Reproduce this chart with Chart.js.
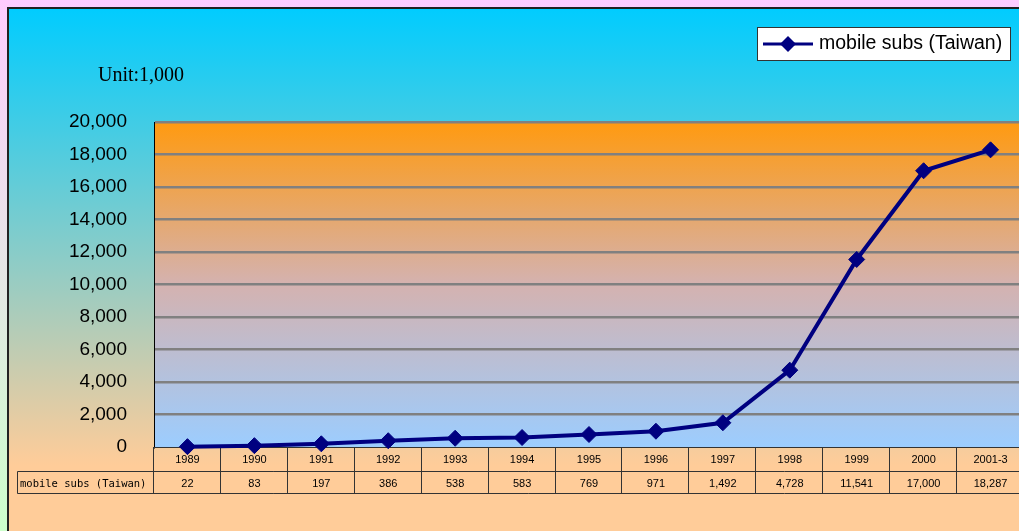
<!DOCTYPE html>
<html>
<head>
<meta charset="utf-8">
<script src="https://cdn.jsdelivr.net/npm/chart.js@4/dist/chart.umd.min.js"></script>
<style>
	html, body { margin: 0; padding: 0; overflow: hidden; background: #ffccff; }
	#wrap { position: absolute; left: 0; top: 0; width: 1019px; height: 531px; overflow: hidden; }
	canvas { display: block; }
</style>
</head>
<body>
<div id="wrap"><canvas id="chart" width="1040" height="531"></canvas></div>
<script>
const years = ["1989", "1990", "1991", "1992", "1993", "1994", "1995", "1996", "1997", "1998", "1999", "2000", "2001-3"];
const subs = [22, 83, 197, 386, 538, 583, 769, 971, 1492, 4728, 11541, 17000, 18287];
const seriesName = "mobile subs (Taiwan)";
const unitText = "Unit:1,000";
const yMax = 20000;
const yStep = 2000;

const navy = "#000080";

function fmt(v) {
	return v.toLocaleString("en-US");
}

// backgrounds: page strip, frame gradient, plot gradient
const backdrop = {
	id: "backdrop",
	beforeDraw(chart) {
		const ctx = chart.ctx;
		const W = chart.width, H = chart.height;
		const a = chart.chartArea;
		ctx.save();
		let g = ctx.createLinearGradient(0, 0, 0, H);
		g.addColorStop(0, "#ffccff");
		g.addColorStop(1, "#ccffcc");
		ctx.fillStyle = g;
		ctx.fillRect(0, 0, W, H);

		g = ctx.createLinearGradient(0, 7, 0, 465);
		g.addColorStop(0, "#00ccff");
		g.addColorStop(1, "#ffcc99");
		ctx.fillStyle = g;
		ctx.fillRect(7, 7, W, H);

		ctx.strokeStyle = "#222";
		ctx.lineWidth = 2;
		ctx.beginPath();
		ctx.moveTo(8, H);
		ctx.lineTo(8, 8);
		ctx.lineTo(W, 8);
		ctx.stroke();

		g = ctx.createLinearGradient(0, a.top, 0, a.bottom);
		g.addColorStop(0, "#ff9a10");
		g.addColorStop(0.5, "#d4b2b0");
		g.addColorStop(1, "#9ccdff");
		ctx.fillStyle = g;
		ctx.fillRect(a.left, a.top, a.right - a.left, a.bottom - a.top);

		ctx.fillStyle = "#000";
		ctx.font = "20px 'Liberation Serif'";
		ctx.textAlign = "left";
		ctx.textBaseline = "alphabetic";
		ctx.fillText(unitText, 98, 81);
		ctx.restore();
	},
};

// data table under the plot, placed with the x scale
const dataTable = {
	id: "dataTable",
	beforeDatasetsDraw(chart) {
		const ctx = chart.ctx;
		const x = chart.scales.x;
		const a = chart.chartArea;
		const cw = (a.right - a.left) / years.length;
		const row1 = a.bottom, row2 = a.bottom + 24, row3 = a.bottom + 46;
		ctx.save();
		ctx.strokeStyle = "#333";
		ctx.lineWidth = 1;
		ctx.beginPath();
		ctx.moveTo(a.left, row1 + 0.5);
		ctx.lineTo(chart.width, row1 + 0.5);
		ctx.moveTo(17.5, row2 + 0.5);
		ctx.lineTo(chart.width, row2 + 0.5);
		ctx.moveTo(17.5, row3 + 0.5);
		ctx.lineTo(chart.width, row3 + 0.5);
		ctx.moveTo(17.5, row2 + 0.5);
		ctx.lineTo(17.5, row3 + 0.5);
		for (let i = 0; i <= years.length; i++) {
			const px = Math.round(a.left + i * cw) - 0.5;
			ctx.moveTo(px, row1);
			ctx.lineTo(px, row3 + 1);
		}
		ctx.stroke();

		ctx.fillStyle = "#000";
		ctx.textAlign = "center";
		ctx.textBaseline = "middle";
		ctx.font = "11px 'Liberation Sans'";
		years.forEach((y, i) => {
			const cx = x.getPixelForValue(i);
			ctx.fillText(y, cx, row1 + 13);
			ctx.fillText(fmt(subs[i]), cx, row2 + 13);
		});
		ctx.textAlign = "left";
		ctx.font = "10.5px 'DejaVu Sans Mono'";
		ctx.fillText(seriesName, 20, row2 + 13);
		ctx.restore();
	},
};

// boxed legend at top right
const boxLegend = {
	id: "boxLegend",
	afterDraw(chart) {
		const ctx = chart.ctx;
		ctx.save();
		ctx.fillStyle = "#fff";
		ctx.fillRect(757, 27, 253, 33);
		ctx.strokeStyle = "#333";
		ctx.lineWidth = 1;
		ctx.strokeRect(757.5, 27.5, 253, 33);
		ctx.strokeStyle = navy;
		ctx.lineWidth = 3;
		ctx.beginPath();
		ctx.moveTo(763, 44);
		ctx.lineTo(813, 44);
		ctx.stroke();
		ctx.fillStyle = navy;
		ctx.beginPath();
		ctx.moveTo(788, 36);
		ctx.lineTo(796, 44);
		ctx.lineTo(788, 52);
		ctx.lineTo(780, 44);
		ctx.closePath();
		ctx.fill();
		ctx.fillStyle = "#000";
		ctx.font = "19.5px 'Liberation Sans'";
		ctx.textBaseline = "middle";
		ctx.fillText(chart.data.datasets[0].label, 819, 44);
		ctx.restore();
	},
};

new Chart(document.getElementById("chart"), {
	type: "line",
	data: {
		labels: years,
		datasets: [
			{
				label: seriesName,
				data: subs,
				borderColor: navy,
				backgroundColor: navy,
				borderWidth: 4,
				pointStyle: "rectRot",
				pointRadius: 8,
				pointBackgroundColor: navy,
				pointBorderColor: navy,
				pointBorderWidth: 1,
				tension: 0,
				clip: false,
			},
		],
	},
	options: {
		responsive: false,
		animation: false,
		devicePixelRatio: 1,
		layout: {
			padding: { top: 122, right: 16, bottom: 84, left: 0 },
		},
		plugins: {
			legend: { display: false },
			tooltip: { enabled: false },
		},
		scales: {
			x: {
				display: false,
				offset: true,
			},
			y: {
				min: 0,
				max: yMax,
				afterFit(scale) {
					scale.width = 154;
				},
				ticks: {
					stepSize: yStep,
					padding: 27,
					color: "#000",
					font: { family: "'Liberation Sans'", size: 19 },
					callback: (v) => fmt(v),
				},
				grid: {
					color: (c) => (c.tick.value === 0 ? "rgba(0,0,0,0)" : "#808080"),
					lineWidth: 2.5,
					drawTicks: false,
				},
				border: { display: true, color: "#000", width: 1 },
			},
		},
	},
	plugins: [backdrop, dataTable, boxLegend],
});
</script>
</body>
</html>
